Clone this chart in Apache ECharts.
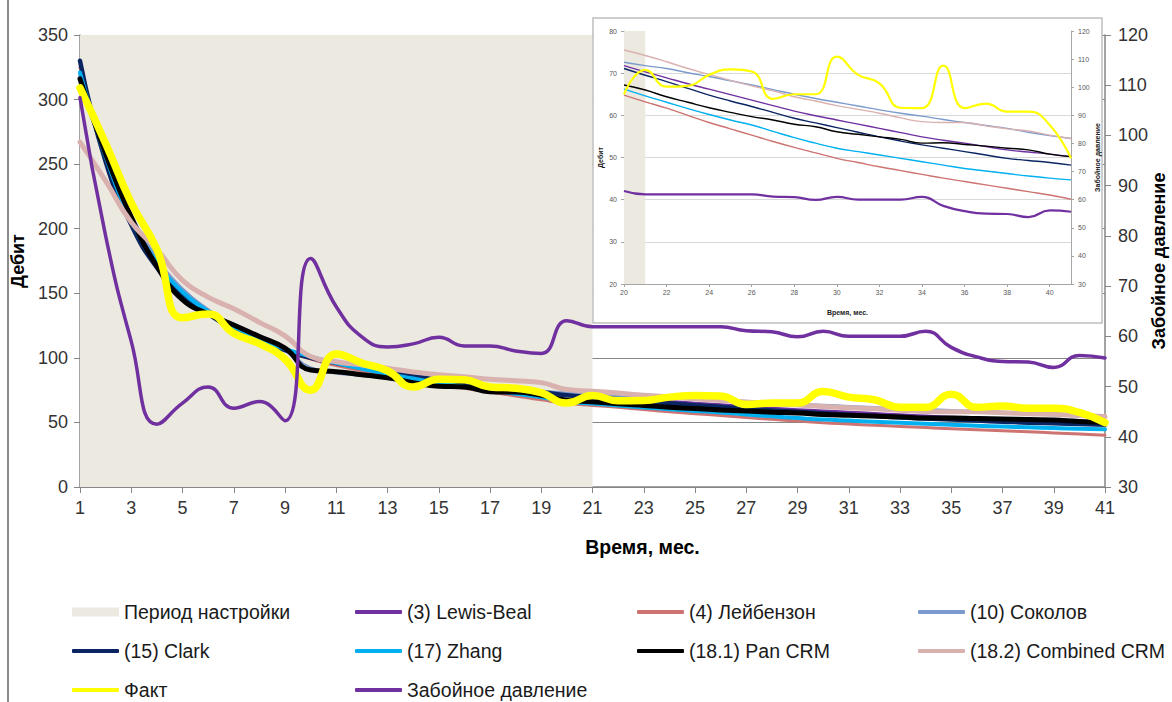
<!DOCTYPE html>
<html>
<head>
<meta charset="utf-8">
<script src="https://cdn.jsdelivr.net/npm/echarts@6/dist/echarts.min.js"></script>
<style>
  html, body { margin: 0; padding: 0; background: #ffffff; }
  #chart { width: 1172px; height: 702px; }
</style>
</head>
<body>
<div id="chart"></div>
<script>
// Months on the horizontal axis
const months = ['1','2','3','4','5','6','7','8','9','10','11','12','13','14','15','16','17','18','19','20',
  '21','22','23','24','25','26','27','28','29','30','31','32','33','34','35','36','37','38','39','40','41'];
// Calibration (history-matching) period
const periodStart = '1';
const periodEnd = '21';
// Zoomed view covers months 20..41
const insetStart = 19;

// Rate models (Дебит)
const lewisBeal = [318, 256, 208, 176, 153, 137, 125, 115, 107, 100, 95, 91, 87.5, 84.5, 81.5, 79, 77, 75, 73.3, 71.8,
  70.3, 68.9, 67.5, 66.2, 64.9, 63.6, 62.3, 61.0, 59.9, 58.9, 57.9, 56.9, 55.9, 54.9, 54.1, 53.4, 52.6, 51.8, 51.3, 50.8, 50.2];
const leibenzon = [325, 257, 207, 174, 151, 135, 123, 114, 106, 99, 94, 90, 86.5, 83, 79.5, 76.5, 73.5, 70.5, 67.5, 64.8,
  63.2, 61.7, 60.0, 58.3, 56.8, 55.3, 53.8, 52.4, 51.1, 49.8, 48.8, 47.8, 46.9, 46.0, 45.1, 44.3, 43.5, 42.7, 41.9, 41.1, 40.1];
const sokolov = [320, 258, 210, 177, 153, 137, 124, 114, 106, 92, 88.5, 86.5, 84.5, 82.5, 80.5, 78.8, 77.2, 75.7, 74.2, 72.6,
  71.8, 71.1, 70.1, 69.2, 68.2, 67.2, 66.1, 65.0, 64.0, 63.1, 62.2, 61.3, 60.5, 59.8, 59.0, 58.3, 57.6, 56.9, 56.0, 55.2, 54.5];
const clark = [330, 252, 203, 170, 149, 134, 122, 113, 106, 100, 96, 92.5, 89, 86, 83, 80.5, 78, 75.8, 73.5, 71.1,
  69.5, 68.0, 66.4, 64.8, 63.4, 62.1, 60.7, 59.3, 58.2, 57.1, 56.0, 54.9, 53.9, 53.0, 52.2, 51.4, 50.6, 49.8, 49.3, 48.8, 48.2];
const zhang = [321, 256, 207, 174, 151, 136, 124, 114.5, 107, 101, 96, 91.5, 87.5, 84, 80.5, 77.5, 74.8, 72.2, 69.5, 66.2,
  64.6, 63.1, 61.6, 60.2, 58.9, 57.7, 56.2, 54.7, 53.4, 52.2, 51.4, 50.6, 49.8, 49.0, 48.2, 47.4, 46.8, 46.2, 45.6, 45.1, 44.7];
const panCRM = [316, 258, 209, 171, 145, 134, 125.5, 116.5, 107.5, 90.6, 89.3, 87, 84.5, 80.8, 78, 77.5, 73.8, 73.5, 71, 67.2,
  66.0, 64.4, 63.1, 61.8, 60.7, 59.7, 58.9, 57.9, 57.3, 56.1, 55.5, 54.9, 54.3, 53.4, 53.5, 53.1, 52.7, 52.2, 51.8, 50.8, 50.2];
const combinedCRM = [267, 237, 205, 184, 160, 147, 138, 127.5, 117, 101, 97, 94.5, 92, 89, 87, 85.4, 83.4, 82.3, 80.8, 75.5,
  74.2, 72.7, 71.1, 69.7, 68.3, 67.0, 65.8, 64.4, 63.4, 62.3, 61.4, 60.5, 59.4, 58.5, 58.3, 58.3, 57.5, 56.8, 56.3, 55.3, 54.5];
// Measured rate
const fact = [309, 266, 220, 184, 131, 134, 119, 111, 99, 75, 103, 96, 90, 77.5, 83.5, 83, 77.5, 76.5, 73, 65,
  70.8, 66.8, 67.0, 69.6, 70.9, 70.4, 63.9, 65.0, 65.0, 73.9, 69.6, 67.6, 61.8, 61.7, 71.8, 61.7, 62.8, 60.9, 60.9, 57.7, 49.8];
// Bottom-hole pressure (right axis)
const bhp = [107.5, 80, 59, 42.5, 46.7, 49.9, 45.7, 47, 43.2, 75.5, 65.9, 59.9, 57.9, 58.5, 59.8, 58.1, 58.1, 57.1, 56.6, 63.1,
  61.9, 61.9, 61.9, 61.9, 61.9, 61.9, 61.1, 60.9, 59.9, 61.0, 60.0, 60.0, 60.0, 61.0, 57.8, 55.9, 55.0, 54.9, 53.8, 56.2, 55.7];

const FONT = '"Liberation Sans", Arial, sans-serif';
const AXIS = '#868686';
const SHADE = '#ECE9E0';

const models = [
  { name: '(3) Lewis-Beal', data: lewisBeal, color: '#7030A0', w: 3 },
  { name: '(4) Лейбензон', data: leibenzon, color: '#CD7371', w: 3 },
  { name: '(10) Соколов', data: sokolov, color: '#7B9BCE', w: 3.5 },
  { name: '(15) Clark', data: clark, color: '#0B2563', w: 4.5 },
  { name: '(17) Zhang', data: zhang, color: '#00B0F0', w: 4 },
  { name: '(18.1) Pan CRM', data: panCRM, color: '#000000', w: 5 },
  { name: '(18.2) Combined CRM', data: combinedCRM, color: '#D9B2B0', w: 5 },
  { name: 'Факт', data: fact, color: '#FFFF00', w: 7.5 },
  { name: 'Забойное давление', data: bhp, color: '#7030A0', w: 3.5, right: true }
];

const series = [];
// shaded calibration period, main view
series.push({
  name: 'Период настройки', type: 'line', xAxisIndex: 0, yAxisIndex: 0,
  data: [], itemStyle: { color: SHADE }, z: 1,
  markArea: { silent: true, z: 1, itemStyle: { color: SHADE }, data: [[{ xAxis: periodStart }, { xAxis: periodEnd }]] }
});
models.forEach(m => series.push({
  name: m.name, type: 'line', xAxisIndex: 0, yAxisIndex: m.right ? 1 : 0,
  data: m.data, smooth: 0.5, symbol: 'none', z: 3,
  itemStyle: { color: m.color },
  lineStyle: { color: m.color, width: m.w, cap: 'round', join: 'round' }
}));
// zoomed view
series.push({
  name: 'Период настройки', type: 'line', xAxisIndex: 1, yAxisIndex: 2,
  data: [], itemStyle: { color: SHADE }, z: 12,
  markArea: { silent: true, z: 12, itemStyle: { color: SHADE }, data: [[{ xAxis: months[insetStart] }, { xAxis: periodEnd }]] }
});
models.forEach(m => series.push({
  name: m.name, type: 'line', xAxisIndex: 1, yAxisIndex: m.right ? 3 : 2,
  data: m.data.slice(insetStart), smooth: 0.5, symbol: 'none', z: 13,
  itemStyle: { color: m.color },
  lineStyle: { color: m.color, width: (m.name === 'Факт' || m.right) ? 2.2 : 1.4 }
}));

const legendBase = {
  orient: 'vertical', padding: 0, itemWidth: 47, itemHeight: 4, itemGap: 19, icon: 'roundRect',
  textStyle: { fontFamily: FONT, fontSize: 19.5, color: '#1a1a1a', lineHeight: 20 }
};

const option = {
  animation: false,
  backgroundColor: '#ffffff',
  grid: [
    { left: 80, right: 67, top: 35, bottom: 215, outerBoundsMode: 'none', containLabel: false },
    { left: 624, right: 101, top: 31, bottom: 418, z: 11, outerBoundsMode: 'none', containLabel: false }
  ],
  xAxis: [
    {
      gridIndex: 0, type: 'category', data: months, boundaryGap: false,
      name: 'Время, мес.', nameLocation: 'middle', nameGap: 50,
      nameTextStyle: { fontFamily: FONT, fontSize: 19.5, fontWeight: 'bold', color: '#000', padding: [0, 0, 0, 100] },
      axisLine: { lineStyle: { color: AXIS, width: 1.5 } },
      axisTick: { interval: 1, length: 6, lineStyle: { color: AXIS } },
      axisLabel: { interval: 1, fontFamily: FONT, fontSize: 18, color: '#333', margin: 12 },
      splitLine: { show: false }
    },
    {
      gridIndex: 1, type: 'category', data: months.slice(insetStart), boundaryGap: false, z: 11,
      name: 'Время, мес.', nameLocation: 'middle', nameGap: 25,
      nameTextStyle: { fontFamily: FONT, fontSize: 7, fontWeight: 'bold', color: '#222' },
      axisLine: { lineStyle: { color: '#A6A6A6' } },
      axisTick: { interval: 1, length: 3, lineStyle: { color: '#A6A6A6' } },
      axisLabel: { interval: 1, fontFamily: FONT, fontSize: 7, color: '#595959', margin: 5 },
      splitLine: { show: false }
    }
  ],
  yAxis: [
    {
      gridIndex: 0, type: 'value', min: 0, max: 350, interval: 50,
      name: 'Дебит', nameLocation: 'middle', nameGap: 47, nameRotate: 90,
      nameTextStyle: { fontFamily: FONT, fontSize: 18, fontWeight: 'bold', color: '#000' },
      axisLine: { show: true, lineStyle: { color: AXIS, width: 1.5 } },
      axisTick: { show: true, length: 6, lineStyle: { color: AXIS } },
      axisLabel: { fontFamily: FONT, fontSize: 18, color: '#333', margin: 12 },
      splitLine: { show: true, lineStyle: { color: AXIS, width: 1 } }
    },
    {
      gridIndex: 0, type: 'value', position: 'right', min: 30, max: 120, interval: 10,
      name: 'Забойное давление', nameLocation: 'middle', nameGap: 45, nameRotate: 90, nameMoveOverlap: false,
      nameTextStyle: { fontFamily: FONT, fontSize: 18, fontWeight: 'bold', color: '#000' },
      axisLine: { show: true, lineStyle: { color: AXIS, width: 1.5 } },
      axisTick: { show: true, length: 6, lineStyle: { color: AXIS } },
      axisLabel: { fontFamily: FONT, fontSize: 18, color: '#333', margin: 13 },
      splitLine: { show: false }
    },
    {
      gridIndex: 1, type: 'value', min: 20, max: 80, interval: 10, z: 11,
      name: 'Дебит', nameLocation: 'middle', nameGap: 20, nameRotate: 90,
      nameTextStyle: { fontFamily: FONT, fontSize: 7, fontWeight: 'bold', color: '#222' },
      axisLine: { show: true, lineStyle: { color: '#A6A6A6' } },
      axisTick: { show: true, length: 3, lineStyle: { color: '#A6A6A6' } },
      axisLabel: { fontFamily: FONT, fontSize: 7, color: '#595959', margin: 7 },
      splitLine: { show: true, showMaxLine: false, lineStyle: { color: '#D9D9D9', width: 1 } }
    },
    {
      gridIndex: 1, type: 'value', position: 'right', min: 30, max: 120, interval: 10, z: 11,
      name: 'Забойное давление', nameLocation: 'middle', nameGap: 21, nameRotate: 90,
      nameTextStyle: { fontFamily: FONT, fontSize: 7, fontWeight: 'bold', color: '#222' },
      axisLine: { show: true, lineStyle: { color: '#A6A6A6' } },
      axisTick: { show: true, length: 3, lineStyle: { color: '#A6A6A6' } },
      axisLabel: { fontFamily: FONT, fontSize: 7, color: '#595959', margin: 7 },
      splitLine: { show: false }
    }
  ],
  legend: [
    Object.assign({}, legendBase, { left: 72, top: 602, itemHeight: 9, icon: 'rect', data: ['Период настройки'] }),
    Object.assign({}, legendBase, { left: 72, top: 641, data: ['(15) Clark', 'Факт'] }),
    Object.assign({}, legendBase, { left: 355, top: 602, data: ['(3) Lewis-Beal', '(17) Zhang', 'Забойное давление'] }),
    Object.assign({}, legendBase, { left: 637, top: 602, data: ['(4) Лейбензон', '(18.1) Pan CRM'] }),
    Object.assign({}, legendBase, { left: 918, top: 602, data: ['(10) Соколов', '(18.2) Combined CRM'] })
  ],
  graphic: {
    elements: [
      { type: 'line', z: 20, shape: { x1: 8, y1: 0, x2: 8, y2: 702 }, style: { stroke: '#8C8C8C', lineWidth: 2 } },
      { type: 'rect', z: 10, shape: { x: 593, y: 18, width: 509, height: 305 },
        style: { fill: '#ffffff', stroke: '#BFBFBF', lineWidth: 1.5 } }
    ]
  },
  series: series
};

const chart = echarts.init(document.getElementById('chart'), null, { renderer: 'svg' });
chart.setOption(option);
</script>
</body>
</html>
